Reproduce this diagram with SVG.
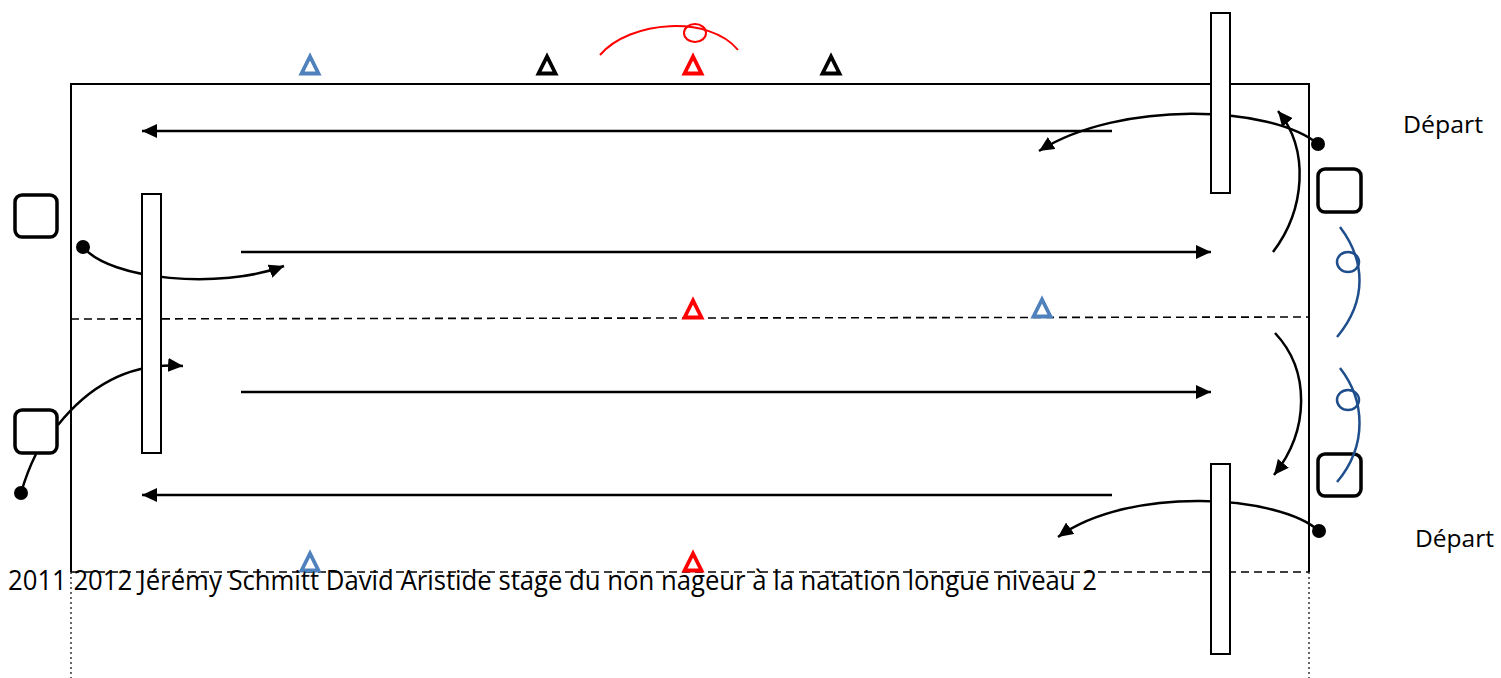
<svg xmlns="http://www.w3.org/2000/svg" width="1501" height="678" viewBox="0 0 1501 678">
<style>
.pool{stroke:#000;stroke-width:2;fill:none}
.dash{stroke:#000;stroke-width:1.6;stroke-dasharray:8 5;fill:none}
.dot{stroke:#000;stroke-width:1.2;stroke-dasharray:2 3;fill:none}
.arr{stroke:#000;stroke-width:2.5;fill:none;marker-end:url(#ah)}
.ln{stroke:#000;stroke-width:2.5;fill:none}
.bar{fill:#fff;stroke:#000;stroke-width:2}
.sq{fill:#fff;stroke:#000;stroke-width:3.5}
.pt{fill:#000}
.tri{fill:none;stroke-width:3.8;stroke-linejoin:miter}
.blue{stroke:#4f81bd}.red{stroke:#ff0000}.blk{stroke:#000}
.curl{stroke:#1f4e8c;stroke-width:2.5;fill:none}
.rc{stroke:#ff0000;stroke-width:2;fill:none}
.lbl{font-family:"Open Sans","Liberation Sans",sans-serif;font-size:24px;fill:#000}
</style>
<defs>
<marker id="ah" markerUnits="userSpaceOnUse" markerWidth="16" markerHeight="14" refX="15" refY="7" orient="auto">
<path d="M0,0 L15,7 L0,14 z" fill="#000"/>
</marker>
<polygon id="t" points="0,-8.5 -8.5,8.5 8.5,8.5"/>
</defs>
<g id="pool">
<path class="pool" d="M71,572 V84 H1309 V572"/>
<line class="dash" x1="71" y1="319" x2="1309" y2="317"/>
<line class="dash" x1="71" y1="572" x2="1309" y2="572"/>
<line class="dot" x1="71" y1="572" x2="71" y2="678"/>
<line class="dot" x1="1309" y1="572" x2="1309" y2="678"/>
</g>
<g id="connectors">
<line class="arr" x1="1112" y1="131" x2="142" y2="131"/>
<line class="arr" x1="241" y1="252" x2="1211" y2="252"/>
<line class="arr" x1="241" y1="392" x2="1211" y2="392"/>
<line class="arr" x1="1112" y1="495" x2="142" y2="495"/>
<path class="arr" d="M1318,144 C1270,105 1120,100 1039,151"/>
<path class="arr" d="M1273,252 C1305,210 1310,150 1278,111"/>
<path class="arr" d="M1275,333 C1310,370 1310,430 1274,475"/>
<path class="arr" d="M1319,531 C1280,495 1130,485 1058,537"/>
<path class="arr" d="M83,247 C110,280 220,290 284,266"/>
<path class="arr" d="M58,425 C90,385 130,362 183,366"/>
<path class="ln" d="M36,454 Q27,472 21,493"/>
</g>
<g id="dots">
<circle class="pt" cx="1318" cy="144" r="7"/>
<circle class="pt" cx="1319" cy="531" r="7"/>
<circle class="pt" cx="83" cy="247" r="7"/>
<circle class="pt" cx="21" cy="493" r="7"/>
</g>
<g id="bars">
<rect id="bar-top-right" class="bar" x="1211" y="13" width="19" height="180"/>
<rect id="bar-left" class="bar" x="142" y="194" width="19" height="259"/>
<rect id="bar-bottom-right" class="bar" x="1211" y="464" width="19" height="190"/>
</g>
<g id="squares">
<rect id="sq-left-top" class="sq" x="15" y="195" width="42" height="42" rx="7"/>
<rect id="sq-left-bottom" class="sq" x="15" y="410" width="42" height="43" rx="7"/>
<rect id="sq-right-top" class="sq" x="1318" y="169" width="43" height="43" rx="7"/>
<rect id="sq-right-bottom" class="sq" x="1318" y="454" width="43" height="42" rx="7"/>
</g>
<g id="curls">
<path class="curl" d="M1340,227 C1365,260 1368,300 1337,337"/>
<ellipse class="curl" cx="1348" cy="262" rx="11" ry="10"/>
<path class="curl" d="M1340,368 C1365,400 1368,445 1337,482"/>
<ellipse class="curl" cx="1348" cy="400" rx="11" ry="10"/>
<path class="rc" d="M600,55 C630,20 710,15 738,50"/>
<ellipse class="rc" cx="695" cy="33" rx="11" ry="9"/>
</g>
<g id="triangles">
<use href="#t" class="tri blue" x="310" y="65"/>
<use href="#t" class="tri blk" x="547" y="65"/>
<use href="#t" class="tri red" x="693" y="65"/>
<use href="#t" class="tri blk" x="831" y="65"/>
<use href="#t" class="tri red" x="693" y="309"/>
<use href="#t" class="tri blue" x="1042" y="308"/>
<use href="#t" class="tri blue" x="310" y="562"/>
<use href="#t" class="tri red" x="693" y="562"/>
</g>
<g id="labels">
<text class="lbl" x="1403" y="133" textLength="80" lengthAdjust="spacingAndGlyphs">Départ</text>
<text class="lbl" x="1415" y="547" textLength="79" lengthAdjust="spacingAndGlyphs">Départ</text>
<text class="lbl" x="8" y="590" textLength="1089" lengthAdjust="spacingAndGlyphs" style="font-size:27px">2011 2012 Jérémy Schmitt David Aristide stage du non nageur à la natation longue niveau 2</text>
</g>
</svg>
